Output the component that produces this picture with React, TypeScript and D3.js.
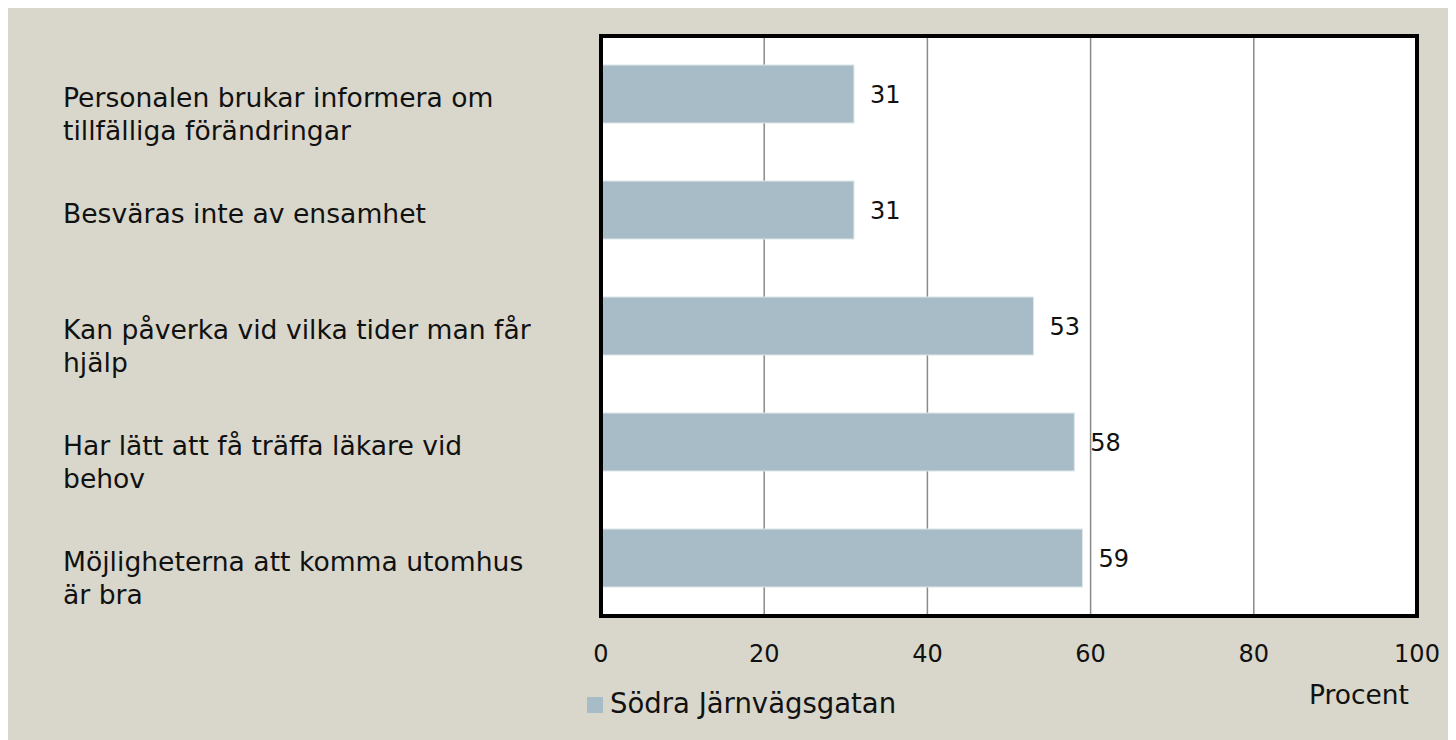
import React from 'react';
import * as d3 from 'd3';

// data
const categories: string[][] = [
  ['Personalen brukar informera om', 'tillfälliga förändringar'],
  ['Besväras inte av ensamhet'],
  ['Kan påverka vid vilka tider man får', 'hjälp'],
  ['Har lätt att få träffa läkare vid', 'behov'],
  ['Möjligheterna att komma utomhus', 'är bra'],
];
const values: number[] = [31, 31, 53, 58, 59];
const xTicks: number[] = [0, 20, 40, 60, 80, 100];
const seriesName = 'Södra Järnvägsgatan';
const axisTitle = 'Procent';

const W = 1448;
const H = 732;
const plot = { left: 593, right: 1409, top: 28, bottom: 608 };
const font = '"DejaVu Sans", sans-serif';
const barColor = '#a8bcc7';
const bgColor = '#d9d7cb';

const App: React.FC = () => {
  const x = d3.scaleLinear().domain([0, 100]).range([plot.left, plot.right]);
  const y = d3
    .scaleBand<number>()
    .domain(d3.range(values.length))
    .range([plot.top, plot.bottom])
    .paddingInner(0.5)
    .paddingOuter(0.25);

  return (
    <svg width={W} height={H} style={{ display: 'block' }} fontFamily={font}>
      <rect x={0} y={0} width={W} height={H} fill={bgColor} />
      <rect
        x={plot.left}
        y={plot.top}
        width={plot.right - plot.left}
        height={plot.bottom - plot.top}
        fill="#fff"
      />

      {/* gridlines */}
      {xTicks.slice(1, -1).map(t => (
        <line
          key={t}
          x1={x(t)}
          x2={x(t)}
          y1={plot.top}
          y2={plot.bottom}
          stroke="#8a8a8a"
          strokeWidth={1.5}
        />
      ))}

      {/* bars */}
      {values.map((v, i) => (
        <rect
          key={i}
          x={x(0)}
          y={y(i)}
          width={x(v) - x(0)}
          height={y.bandwidth()}
          fill={barColor}
          stroke="#dde5ea"
          strokeWidth={1}
        />
      ))}

      {/* value labels */}
      {values.map((v, i) => (
        <text
          key={i}
          x={x(v) + 16}
          y={y(i)! + y.bandwidth() / 2 + 9}
          fontSize={24}
          fill="#111"
        >
          {v}
        </text>
      ))}

      {/* plot border */}
      <rect
        x={plot.left}
        y={plot.top}
        width={plot.right - plot.left}
        height={plot.bottom - plot.top}
        fill="none"
        stroke="#000"
        strokeWidth={4}
      />

      {/* category labels */}
      {categories.map((lines, i) => (
        <text
          key={i}
          x={55}
          y={y(i)! + y.bandwidth() / 2 + 13}
          fontSize={26.6}
          fill="#111"
        >
          {lines.map((l, j) => (
            <tspan key={j} x={55} dy={j === 0 ? 0 : 33}>
              {l}
            </tspan>
          ))}
        </text>
      ))}

      {/* x tick labels */}
      {xTicks.map(t => (
        <text
          key={t}
          x={x(t)}
          y={654}
          fontSize={24}
          textAnchor="middle"
          fill="#111"
        >
          {t}
        </text>
      ))}

      <text x={1401} y={696} fontSize={26.5} textAnchor="end" fill="#111">
        {axisTitle}
      </text>

      {/* legend */}
      <rect x={579} y={689} width={16} height={16} fill={barColor} />
      <text x={602} y={705} fontSize={27.5} fill="#111">
        {seriesName}
      </text>
    </svg>
  );
};

export default App;
